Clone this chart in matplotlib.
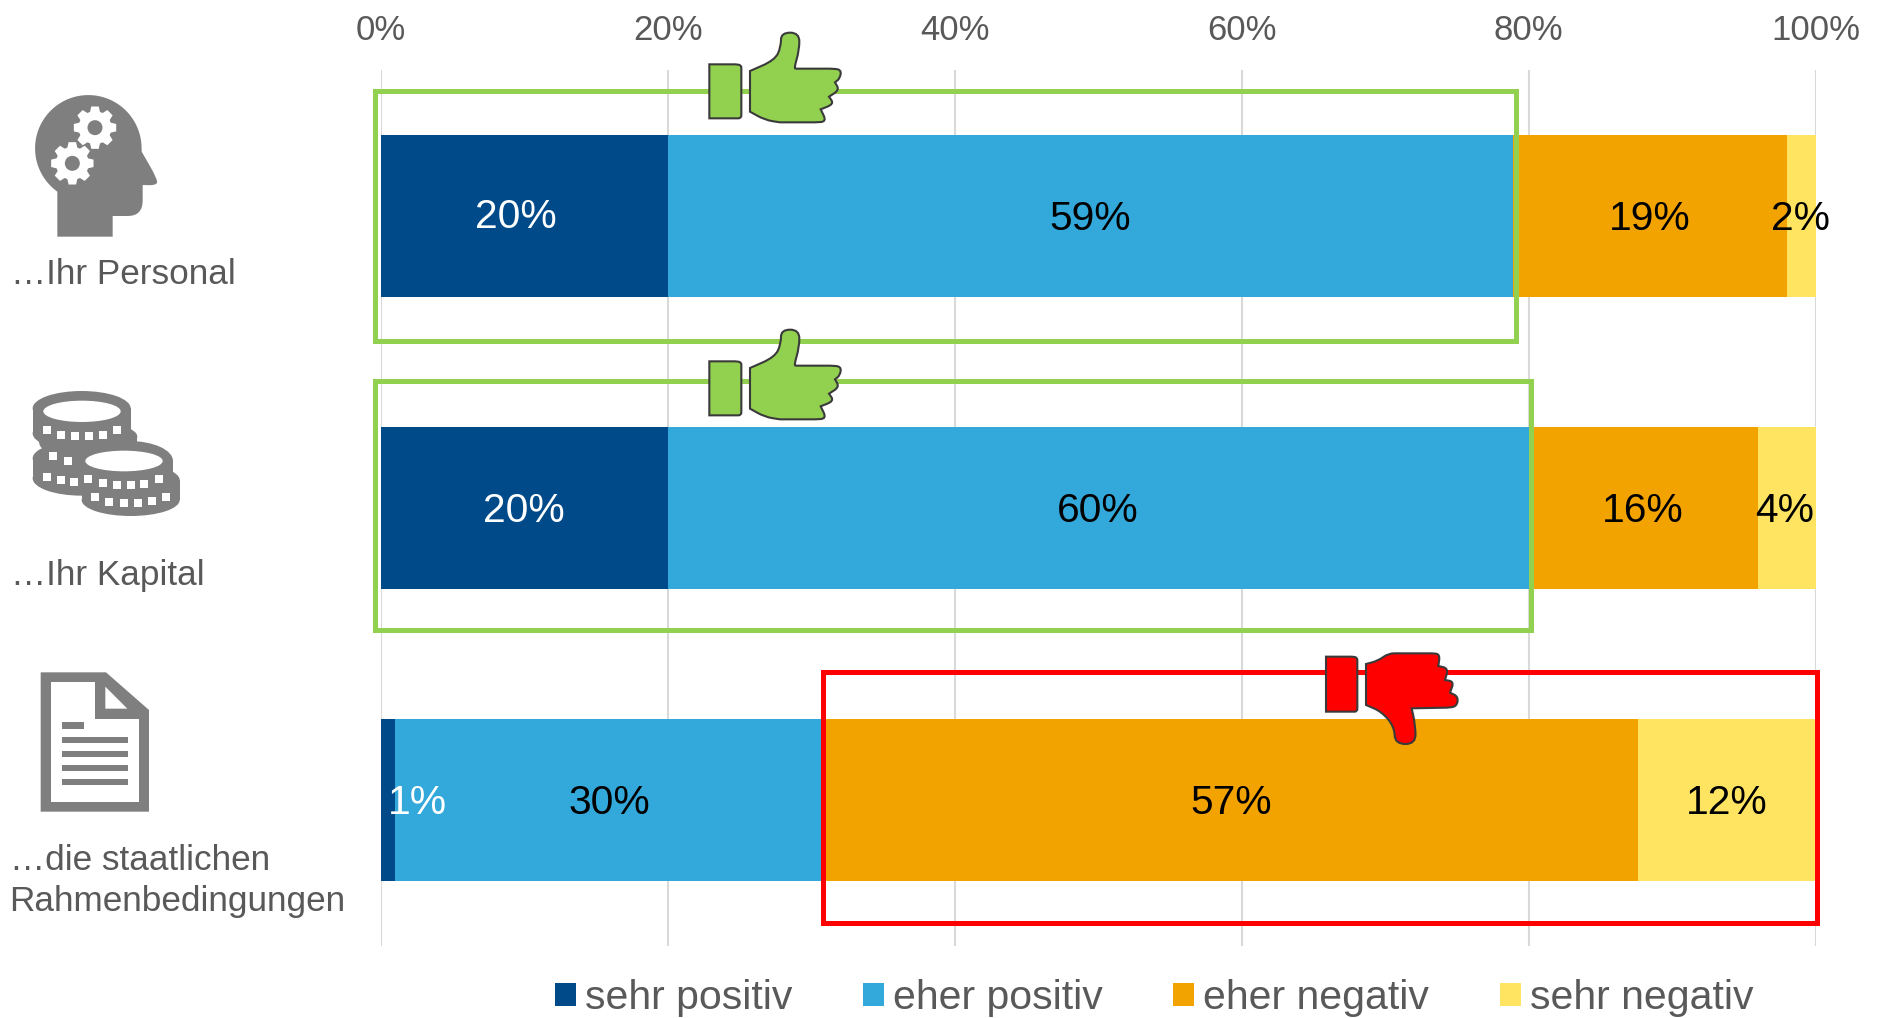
"""
Stacked bar chart: assessment of personnel, capital and framework conditions.
"""

import numpy as np
import matplotlib
matplotlib.use("Agg")
import matplotlib.pyplot as plt
from matplotlib.patches import Ellipse, PathPatch, Polygon, Rectangle
from matplotlib.path import Path

plt.rcParams['font.family'] = ['Liberation Sans', 'DejaVu Sans']

# Data
SERIES = ["sehr positiv", "eher positiv", "eher negativ", "sehr negativ"]
COLORS = ["#004A8A", "#33A8DA", "#F3A300", "#FFE462"]
SEHR_POSITIV = [20.0, 20.0, 1.0]
EHER_POSITIV = [58.9, 60.1, 29.9]
EHER_NEGATIV = [19.1, 15.9, 56.7]
SEHR_NEGATIV = [2.0, 4.0, 12.4]
X_TICKS = [0, 20, 40, 60, 80, 100]

# Configuration
W, H = 1879, 1018
GREY = "#7F7F7F"
TEXT = "#595959"
GREEN = "#92D050"
RED = "#FF0000"

fig = plt.figure(figsize=(W / 100, H / 100), dpi=100)
ax = fig.add_axes([381 / W, 1 - 946 / H, 1434.5 / W, 876 / H])

# Bars
rows = np.arange(3)
left = np.zeros(3)
values = [SEHR_POSITIV, EHER_POSITIV, EHER_NEGATIV, SEHR_NEGATIV]
# small manual label shifts (pixels) as in the original slide
shifts = {(0, 0): (-9, 2), (0, 1): (-1, 0), (1, 1): (-1, 0), (2, 1): (-1, 0),
          (3, 0): (-1, 0), (3, 1): (-2, 0), (0, 2): (29, 0)}
for s, (name, vals, col) in enumerate(zip(SERIES, values, COLORS)):
    ax.barh(rows, vals, left=left, height=0.555, color=col, label=name, zorder=2)
    for r in rows:
        dx, dy = shifts.get((s, int(r)), (0, 0))
        ax.annotate(f"{vals[r]:.0f}%", (left[r] + vals[r] / 2, r),
                    xytext=(dx * 0.72, (dy - 3.5) * 0.72), textcoords='offset points',
                    ha='center', va='center', fontsize=29.3,
                    color='white' if s == 0 else 'black', zorder=3)
    left += np.array(vals)

ax.set_xlim(0, 100)
ax.set_ylim(2.5, -0.5)
ax.set_xticks(X_TICKS)
ax.set_xticklabels([f"{t}%" for t in X_TICKS], fontsize=25, color=TEXT)
ax.xaxis.tick_top()
ax.tick_params(axis='both', length=0, pad=16.5)
ax.set_yticks([])
ax.grid(True, axis='x', color="#D9D9D9", lw=1.5, zorder=0)
ax.set_axisbelow(True)
for spine in ax.spines.values():
    spine.set_visible(False)

fig.legend(loc='center', bbox_to_anchor=(1154 / W, 1 - 998 / H), ncol=4, frameon=False,
           prop={'size': 29.5}, labelcolor=TEXT, handlelength=0.51, handleheight=0.51,
           handletextpad=0.22, columnspacing=1.73)

# Overlay in pixel coordinates for the boxes, icons and row captions
ov = fig.add_axes([0, 0, 1, 1], zorder=5)
ov.set_xlim(0, W)
ov.set_ylim(H, 0)
ov.axis('off')
ov.patch.set_alpha(0)


def smooth_path(points):
    """Closed path through quadratic curves; a doubled point gives a sharp corner."""
    pts = np.array(points, dtype=float)
    mids = (pts + np.roll(pts, -1, axis=0)) / 2
    verts = [mids[-1]]
    codes = [Path.MOVETO]
    for p, m in zip(pts, mids):
        verts += [p, m]
        codes += [Path.CURVE3, Path.CURVE3]
    return Path(verts, codes)


def zoomed(points, ox, oy):
    """Convert points measured in a 3x crop to figure pixels."""
    return [(ox + x / 3, oy + y / 3) for x, y in points]


def sharp(p):
    return [p, p]


def draw_thumb(cuff, hand, color):
    ov.add_patch(PathPatch(smooth_path(cuff), fc=color, ec="#3A3A3A", lw=1.5))
    ov.add_patch(PathPatch(smooth_path(hand), fc=color, ec="#3A3A3A", lw=1.5))


# Highlight boxes
for (x0, y0, x1, y1), col in [((375, 91, 1516, 341), GREEN),
                              ((375, 381, 1531, 630), GREEN),
                              ((823, 672, 1817, 923), RED)]:
    ov.add_patch(Rectangle((x0, y0), x1 - x0, y1 - y0, fill=False, ec=col, lw=3.6))

# Thumbs up
CUFF_UP = [*sharp((88, 163)), *sharp((165, 163)), (184, 165), *sharp((184, 180)),
           *sharp((184, 308)), (184, 325), *sharp((165, 325)), *sharp((88, 325))]
HAND_UP = [*sharp((210, 183)), (285, 150), (303, 110), (303, 68), (358, 68), (358, 120),
           (342, 175), *sharp((350, 176)), *sharp((450, 176)), (484, 178), (480, 205),
           *sharp((465, 217)), (478, 240), *sharp((447, 260)), (462, 282), *sharp((422, 298)),
           (440, 335), *sharp((405, 337)), *sharp((300, 337)), (255, 330), *sharp((210, 305))]
for dy in [0, 297]:
    draw_thumb(zoomed(CUFF_UP, 680, 10 + dy), zoomed(HAND_UP, 680, 10 + dy), GREEN)

# Thumb down
CUFF_DOWN = [*sharp((78, 50)), *sharp((155, 50)), (172, 52), *sharp((172, 68)),
             *sharp((172, 198)), (172, 215), *sharp((155, 215)), *sharp((78, 215))]
HAND_DOWN = [*sharp((198, 72)), (235, 62), (265, 40), *sharp((300, 40)), *sharp((395, 40)),
             (420, 42), *sharp((415, 78)), (445, 85), *sharp((435, 120)), (462, 125),
             *sharp((450, 158)), (475, 170), (470, 200), *sharp((440, 203)), *sharp((335, 205)),
             (345, 250), (348, 312), (285, 312), (283, 260), (245, 215), *sharp((198, 195))]
draw_thumb(zoomed(CUFF_DOWN, 1300, 640), zoomed(HAND_DOWN, 1300, 640), RED)

# Head icon with gears: skull outline is a circle in the crop
theta = np.radians(np.linspace(125.6, 360, 40))
SKULL = [(265 + 160 * np.cos(t), 205 + 160 * np.sin(t)) for t in theta]
HEAD = [*sharp((172, 470)), *sharp((172, 335)), *SKULL, *sharp((425, 215)), (474, 300),
        (468, 316), *sharp((428, 315)), (428, 408), *sharp((338, 408)), *sharp((338, 470))]
ov.add_patch(PathPatch(smooth_path(zoomed(HEAD, 0, 80)), fc=GREY, ec='none'))


def draw_gear(cx, cy, r_out, r_in, r_hole, teeth=8):
    step = 2 * np.pi / teeth
    pts = []
    for i in range(teeth):
        a = i * step
        for da, r in [(-0.30, r_in), (-0.17, r_out), (0.17, r_out), (0.30, r_in)]:
            pts.append((cx + r * np.cos(a + da * step * 1.3), cy + r * np.sin(a + da * step * 1.3)))
    ov.add_patch(Polygon(pts, closed=True, fc='white', ec='none'))
    ov.add_patch(Ellipse((cx, cy), 2 * r_hole, 2 * r_hole, fc=GREY, ec='none'))


for zx, zy in [(285, 143), (217, 250)]:
    draw_gear(zx / 3, 80 + zy / 3, 21.5, 16.5, 7.5)


# Coin icon
def draw_coin(cx, top, rx, ry, height):
    """Grey coin stack body, coordinates in crop pixels."""
    ox, oy = 0, 380
    ov.add_patch(Ellipse((ox + cx / 3, oy + top / 3), 2 * rx / 3, 2 * ry / 3, fc=GREY, ec='none'))
    ov.add_patch(Ellipse((ox + cx / 3, oy + (top + height) / 3), 2 * rx / 3, 2 * ry / 3, fc=GREY, ec='none'))
    ov.add_patch(Rectangle((ox + (cx - rx) / 3, oy + top / 3), 2 * rx / 3, height / 3, fc=GREY, ec='none'))


draw_coin(265, 170, 147, 45, 20)
draw_coin(245, 85, 147, 52, 75)
draw_coin(245, 235, 147, 52, 60)
draw_coin(392, 300, 147, 48, 60)
draw_coin(387, 243, 132, 60, 55)

SQUARES = [(140, 150), (183, 165), (225, 168), (267, 168), (308, 165), (350, 150),
           (160, 228), (203, 243),
           (140, 290), (183, 300), (222, 305),
           (265, 297), (308, 310), (350, 315), (392, 315), (433, 312), (478, 298),
           (285, 352), (328, 365), (372, 368), (415, 368), (457, 362), (498, 350)]
for zx, zy in SQUARES:
    ov.add_patch(Rectangle(((zx - 12) / 3, 380 + (zy - 12) / 3), 24 / 3, 24 / 3, fc='white', ec='none'))
ov.add_patch(Ellipse((246 / 3, 380 + 94 / 3), 232 / 3, 64 / 3, fc='white', ec='none'))
ov.add_patch(Ellipse((372 / 3, 380 + 243 / 3), 232 / 3, 62 / 3, fc='white', ec='none'))

# Document icon
DOC_OUT = [(122, 37), (318, 37), (447, 150), (447, 455), (122, 455)]
DOC_IN = [(153, 67), (285, 67), (285, 178), (416, 178), (416, 425), (153, 425)]
DOC_FOLD = [(316, 80), (382, 146), (316, 146)]
ov.add_patch(Polygon(zoomed(DOC_OUT, 0, 660), closed=True, fc=GREY, ec='none'))
ov.add_patch(Polygon(zoomed(DOC_IN, 0, 660), closed=True, fc='white', ec='none'))
ov.add_patch(Polygon(zoomed(DOC_FOLD, 0, 660), closed=True, fc='white', ec='none'))
for x1, y0 in [(253, 187), (385, 230), (385, 272), (385, 314), (385, 356)]:
    ov.add_patch(Rectangle((185 / 3, 660 + y0 / 3), (x1 - 185) / 3, 20 / 3, fc=GREY, ec='none'))

# Row captions
for x, y, label in [(11, 274, "…Ihr Personal"), (11, 575, "…Ihr Kapital"),
                    (10, 860, "…die staatlichen"), (9, 902, "Rahmenbedingungen")]:
    ov.text(x, y, label, fontsize=25.3, color=TEXT, ha='left', va='center')

fig.savefig("out.png", dpi=100)
